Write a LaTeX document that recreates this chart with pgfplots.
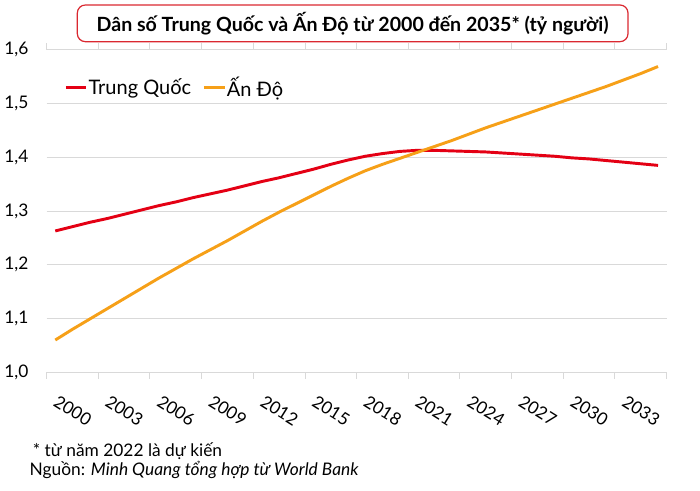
\documentclass[border=0pt]{standalone}
\usepackage{fontspec}
\setmainfont{Lato}
\usepackage{pgfplots}
\pgfplotsset{compat=1.18}

\definecolor{cnred}{RGB}{228,0,20}
\definecolor{inorange}{RGB}{246,160,24}
\definecolor{boxred}{RGB}{218,40,48}
\definecolor{gridgray}{RGB}{217,217,217}

\begin{document}
\begin{tikzpicture}
% canvas 700 x 490 px = 525 x 367.5 pt, origin bottom left
\path[use as bounding box] (0pt,0pt) rectangle (525pt,367.5pt);

% title box
\node[draw=boxred, line width=0.9pt, rounded corners=6pt, minimum width=413pt,
      minimum height=27.5pt, inner sep=0pt, font=\fontsize{14.7}{17}\selectfont\bfseries]
  at (264.5pt,350pt) {Dân số Trung Quốc và Ấn Độ từ 2000 đến 2035* (tỷ người)};

\begin{axis}[
    at={(35pt,88.3pt)}, anchor=south west,
    width=465pt, height=241.8pt, scale only axis,
    xmin=1999.5, xmax=2035.5,
    ymin=1, ymax=1.6,
    ytick={1,1.1,...,1.6},
    xtick={2000,2003,...,2033},
    xticklabels={2000,2003,2006,2009,2012,2015,2018,2021,2024,2027,2030,2033},
    extra x ticks={1999.5,2002.5,...,2035.5},
    extra x tick labels={},
    extra x tick style={major tick length=5pt, tick align=outside,
        major tick style={gridgray, line width=0.75pt}, grid=none},
    major tick length=0pt,
    ymajorgrids, grid style={gridgray, line width=0.75pt},
    axis line style={draw=none},
    /pgf/number format/assume math mode=true,
    /pgf/number format/use comma, /pgf/number format/fixed,
    /pgf/number format/fixed zerofill, /pgf/number format/precision=1,
    yticklabel style={font=\fontsize{13}{15}\selectfont, anchor=east, inner sep=0pt, xshift=-13.5pt},
    xticklabel style={font=\fontsize{13}{15}\selectfont, inner sep=0pt,
        xshift=2.8pt, yshift=-16.5pt, rotate=-32, anchor=north west},
    clip=false,
    legend columns=2,
    legend style={draw=none, fill=none, at={(0.028,0.884)}, anchor=west,
        font=\fontsize{15}{17}\selectfont, inner sep=0pt,
        nodes={inner sep=0.5pt}, /tikz/every even column/.append style={column sep=8pt}},
    legend image code/.code={\draw[#1, line width=2.2pt] (0pt,0pt) -- (15.5pt,0pt);},
]
\addplot[cnred, line width=2.2pt] coordinates {
(2000,1.263) (2001,1.271) (2002,1.279) (2003,1.286) (2004,1.294) (2005,1.302)
(2006,1.310) (2007,1.317) (2008,1.325) (2009,1.332) (2010,1.339) (2011,1.347)
(2012,1.355) (2013,1.362) (2014,1.370) (2015,1.378) (2016,1.387) (2017,1.395)
(2018,1.402) (2019,1.407) (2020,1.411) (2021,1.413) (2022,1.413) (2023,1.412)
(2024,1.411) (2025,1.410) (2026,1.408) (2027,1.406) (2028,1.404) (2029,1.402)
(2030,1.399) (2031,1.397) (2032,1.394) (2033,1.391) (2034,1.388) (2035,1.385)
};
\addlegendentry{Trung Quốc}
\addplot[inorange, line width=2.2pt] coordinates {
(2000,1.060) (2001,1.080) (2002,1.099) (2003,1.118) (2004,1.137) (2005,1.156)
(2006,1.175) (2007,1.193) (2008,1.211) (2009,1.228) (2010,1.245) (2011,1.263)
(2012,1.281) (2013,1.298) (2014,1.314) (2015,1.330) (2016,1.346) (2017,1.361)
(2018,1.375) (2019,1.387) (2020,1.398) (2021,1.409) (2022,1.420) (2023,1.431)
(2024,1.443) (2025,1.455) (2026,1.466) (2027,1.477) (2028,1.488) (2029,1.499)
(2030,1.510) (2031,1.521) (2032,1.532) (2033,1.544) (2034,1.556) (2035,1.569)
};
\addlegendentry{Ấn Độ}
\end{axis}

% notes
\node[anchor=base west, inner sep=0pt, font=\fontsize{13}{15}\selectfont]
  at (24.5pt,25pt) {* từ năm 2022 là dự kiến};
\node[anchor=base west, inner sep=0pt, font=\fontsize{13}{15}\selectfont]
  at (22pt,11.25pt) {Nguồn: \textit{Minh Quang tổng hợp từ World Bank}};
\end{tikzpicture}
\end{document}
